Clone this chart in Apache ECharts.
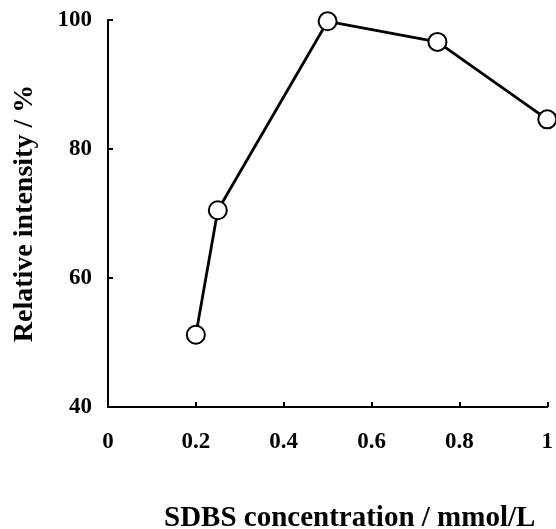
<!DOCTYPE html>
<html>
<head>
<meta charset="utf-8">
<script src="https://cdn.jsdelivr.net/npm/echarts@6/dist/echarts.min.js"></script>
<style>html,body{margin:0;padding:0;background:#fff;}#c{width:556px;height:529px;}</style>
</head>
<body>
<div id="c"></div>
<script>
const concentration = [0.2, 0.25, 0.5, 0.75, 1.0];
const intensity = [51.2, 70.5, 99.8, 96.6, 84.6];
const xTitle = 'SDBS concentration / mmol/L';
const yTitle = 'Relative intensity / %';

const font = '"Liberation Serif", "Times New Roman", serif';
const chart = echarts.init(document.getElementById('c'));
chart.setOption({
  animation: false,
  backgroundColor: '#fff',
  grid: {left: 108, right: 4, top: 20, bottom: 122, containLabel: false},
  xAxis: {
    type: 'value', min: 0, max: 1, interval: 0.2,
    axisLine: {onZero: false, lineStyle: {color: '#000', width: 2}},
    axisTick: {inside: true, length: 5, lineStyle: {color: '#000', width: 2}},
    splitLine: {show: false},
    axisLabel: {color: '#000', fontFamily: font, fontWeight: 'bold', fontSize: 23, margin: 24,
      formatter: v => (v === 0 ? '0' : v === 1 ? '1' : v.toFixed(1))}
  },
  yAxis: {
    type: 'value', min: 40, max: 100, interval: 20,
    name: yTitle, nameLocation: 'middle', nameGap: 69, nameRotate: 90,
    nameTextStyle: {color: '#000', fontFamily: font, fontWeight: 'bold', fontSize: 28},
    axisLine: {show: true, lineStyle: {color: '#000', width: 2}},
    axisTick: {show: true, inside: true, length: 5, lineStyle: {color: '#000', width: 2}},
    splitLine: {show: false},
    axisLabel: {color: '#000', fontFamily: font, fontWeight: 'bold', fontSize: 23, margin: 16}
  },
  graphic: [{
    type: 'text', left: 164, top: 504, z: 10,
    style: {text: xTitle, fill: '#000', fontFamily: font, fontWeight: 'bold', fontSize: 29}
  }],
  series: [{
    type: 'line',
    data: concentration.map((c, i) => [c, intensity[i]]),
    symbol: 'circle', symbolSize: 18,
    lineStyle: {color: '#000', width: 2.8},
    itemStyle: {color: '#fff', borderColor: '#000', borderWidth: 2},
    clip: false
  }]
});
</script>
</body>
</html>
